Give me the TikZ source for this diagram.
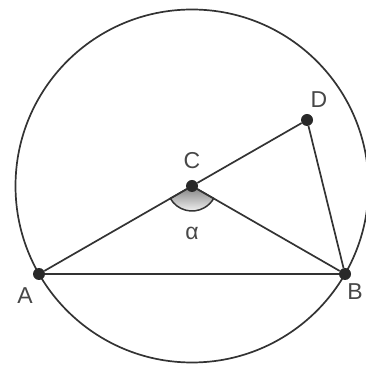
\documentclass[tikz,border=0pt]{standalone}
\usepackage{fontspec}
\setmainfont{Liberation Sans}
\usepackage{tikz}
\usetikzlibrary{calc}
\definecolor{ink}{HTML}{333333}
\definecolor{shade}{HTML}{C8C8C8}
\tikzset{pt/.style={circle,fill=ink!80!black,inner sep=0pt,minimum size=12pt},
  seg/.style={line width=1.7pt,draw=ink},
  lbl/.style={font=\fontsize{23}{23}\selectfont,text=ink!90}}

\begin{document}
\begin{tikzpicture}[x=1pt,y=1pt]
\useasboundingbox (0,0) rectangle (365,366);
\coordinate (c) at (192,180);
\draw[seg] (c) circle (176.5);
\fill[shade,draw=ink,line width=1.5pt] (c) -- ($(c)+(209.9:25)$) arc (209.9:330.1:25) -- cycle;
\node[pt] (C) at (c) {};
\node[pt] (A) at (39,92) {};
\node[pt] (B) at (345,92) {};
\node[pt] (D) at (307,246) {};
\draw[seg] (A) -- (B) (A) -- (C) -- (B) (C) -- (D) -- (B);
\node[lbl] (lA) at (25,70) {A};
\node[lbl] (lB) at (355,74) {B};
\node[lbl] (lC) at (192,205) {C};
\node[lbl] (lD) at (319,266) {D};
\node[lbl] (la) at (192,133) {α};
\end{tikzpicture}
\end{document}
